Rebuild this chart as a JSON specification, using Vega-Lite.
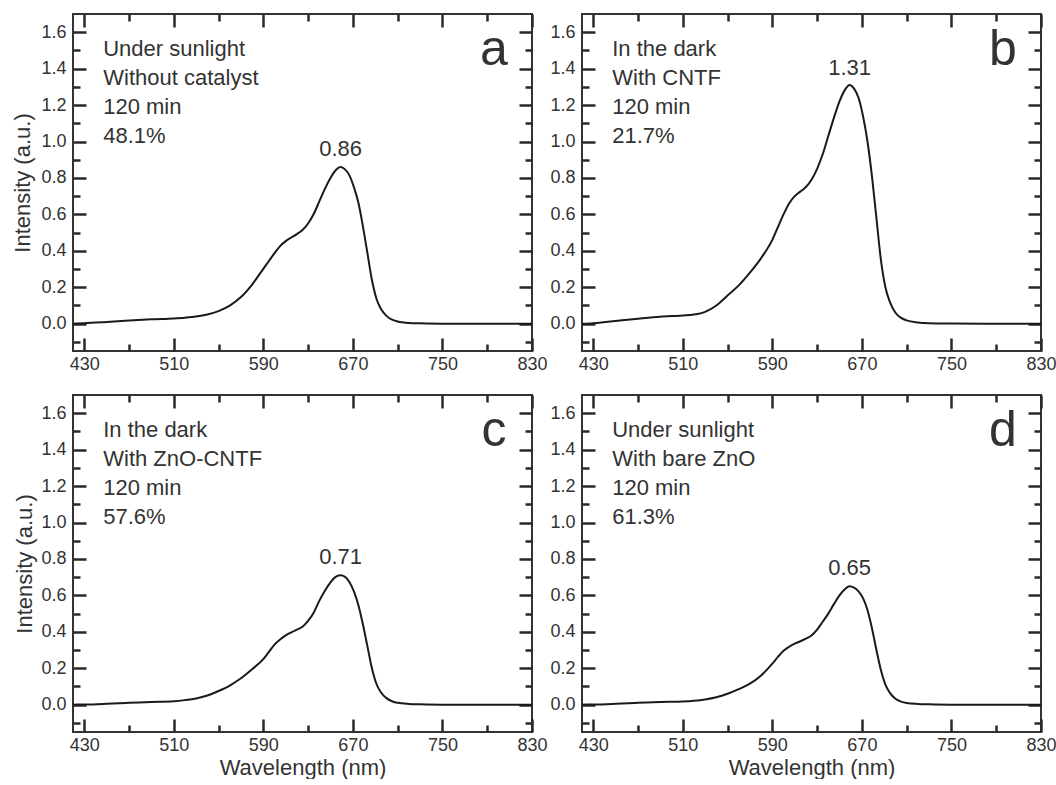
{
  "$schema": "https://vega.github.io/schema/vega-lite/v6.json",
  "padding": {"left": 10, "top": 11, "right": 0, "bottom": 0},
  "background": "white",
  "datasets": {
    "spectra": [
      {"panel":"a","wl":420,"abs":0},{"panel":"a","wl":430,"abs":0.002},{"panel":"a","wl":450,"abs":0.009},{"panel":"a","wl":470,"abs":0.017},{"panel":"a","wl":490,"abs":0.024},{"panel":"a","wl":510,"abs":0.029},{"panel":"a","wl":520,"abs":0.033},{"panel":"a","wl":530,"abs":0.039},{"panel":"a","wl":540,"abs":0.05},{"panel":"a","wl":550,"abs":0.069},{"panel":"a","wl":560,"abs":0.099},{"panel":"a","wl":570,"abs":0.146},{"panel":"a","wl":580,"abs":0.215},{"panel":"a","wl":590,"abs":0.301},{"panel":"a","wl":595,"abs":0.344},{"panel":"a","wl":600,"abs":0.387},{"panel":"a","wl":605,"abs":0.426},{"panel":"a","wl":610,"abs":0.453},{"panel":"a","wl":615,"abs":0.473},{"panel":"a","wl":620,"abs":0.492},{"panel":"a","wl":625,"abs":0.514},{"panel":"a","wl":630,"abs":0.55},{"panel":"a","wl":635,"abs":0.602},{"panel":"a","wl":640,"abs":0.671},{"panel":"a","wl":645,"abs":0.74},{"panel":"a","wl":650,"abs":0.8},{"panel":"a","wl":655,"abs":0.845},{"panel":"a","wl":659,"abs":0.86},{"panel":"a","wl":663,"abs":0.847},{"panel":"a","wl":667,"abs":0.813},{"panel":"a","wl":671,"abs":0.748},{"panel":"a","wl":675,"abs":0.662},{"panel":"a","wl":679,"abs":0.533},{"panel":"a","wl":683,"abs":0.387},{"panel":"a","wl":687,"abs":0.241},{"panel":"a","wl":691,"abs":0.138},{"panel":"a","wl":695,"abs":0.082},{"panel":"a","wl":700,"abs":0.043},{"panel":"a","wl":705,"abs":0.022},{"panel":"a","wl":710,"abs":0.012},{"panel":"a","wl":720,"abs":0.004},{"panel":"a","wl":730,"abs":0.002},{"panel":"a","wl":750,"abs":0},{"panel":"a","wl":780,"abs":0},{"panel":"a","wl":830,"abs":0},
      {"panel":"b","wl":420,"abs":0},{"panel":"b","wl":430,"abs":0.003},{"panel":"b","wl":450,"abs":0.015},{"panel":"b","wl":470,"abs":0.027},{"panel":"b","wl":490,"abs":0.038},{"panel":"b","wl":510,"abs":0.045},{"panel":"b","wl":520,"abs":0.05},{"panel":"b","wl":530,"abs":0.065},{"panel":"b","wl":540,"abs":0.1},{"panel":"b","wl":550,"abs":0.155},{"panel":"b","wl":560,"abs":0.21},{"panel":"b","wl":570,"abs":0.28},{"panel":"b","wl":580,"abs":0.36},{"panel":"b","wl":590,"abs":0.46},{"panel":"b","wl":595,"abs":0.53},{"panel":"b","wl":600,"abs":0.6},{"panel":"b","wl":605,"abs":0.66},{"panel":"b","wl":610,"abs":0.7},{"panel":"b","wl":615,"abs":0.725},{"panel":"b","wl":620,"abs":0.75},{"panel":"b","wl":625,"abs":0.79},{"panel":"b","wl":630,"abs":0.85},{"panel":"b","wl":635,"abs":0.93},{"panel":"b","wl":640,"abs":1.03},{"panel":"b","wl":645,"abs":1.13},{"panel":"b","wl":650,"abs":1.22},{"panel":"b","wl":655,"abs":1.285},{"panel":"b","wl":659,"abs":1.31},{"panel":"b","wl":663,"abs":1.29},{"panel":"b","wl":667,"abs":1.24},{"panel":"b","wl":671,"abs":1.14},{"panel":"b","wl":675,"abs":1.0},{"panel":"b","wl":679,"abs":0.81},{"panel":"b","wl":683,"abs":0.58},{"panel":"b","wl":687,"abs":0.35},{"panel":"b","wl":691,"abs":0.2},{"panel":"b","wl":695,"abs":0.12},{"panel":"b","wl":700,"abs":0.06},{"panel":"b","wl":705,"abs":0.032},{"panel":"b","wl":710,"abs":0.018},{"panel":"b","wl":720,"abs":0.007},{"panel":"b","wl":730,"abs":0.003},{"panel":"b","wl":750,"abs":0.001},{"panel":"b","wl":780,"abs":0},{"panel":"b","wl":830,"abs":0},
      {"panel":"c","wl":420,"abs":0},{"panel":"c","wl":430,"abs":0.001},{"panel":"c","wl":450,"abs":0.005},{"panel":"c","wl":470,"abs":0.01},{"panel":"c","wl":490,"abs":0.015},{"panel":"c","wl":510,"abs":0.019},{"panel":"c","wl":520,"abs":0.025},{"panel":"c","wl":530,"abs":0.034},{"panel":"c","wl":540,"abs":0.05},{"panel":"c","wl":550,"abs":0.075},{"panel":"c","wl":560,"abs":0.105},{"panel":"c","wl":570,"abs":0.145},{"panel":"c","wl":580,"abs":0.195},{"panel":"c","wl":590,"abs":0.25},{"panel":"c","wl":595,"abs":0.29},{"panel":"c","wl":600,"abs":0.33},{"panel":"c","wl":605,"abs":0.358},{"panel":"c","wl":610,"abs":0.38},{"panel":"c","wl":615,"abs":0.397},{"panel":"c","wl":620,"abs":0.412},{"panel":"c","wl":625,"abs":0.428},{"panel":"c","wl":630,"abs":0.46},{"panel":"c","wl":635,"abs":0.505},{"panel":"c","wl":640,"abs":0.57},{"panel":"c","wl":645,"abs":0.625},{"panel":"c","wl":650,"abs":0.672},{"panel":"c","wl":655,"abs":0.703},{"panel":"c","wl":659,"abs":0.71},{"panel":"c","wl":663,"abs":0.702},{"panel":"c","wl":667,"abs":0.672},{"panel":"c","wl":671,"abs":0.62},{"panel":"c","wl":675,"abs":0.545},{"panel":"c","wl":679,"abs":0.44},{"panel":"c","wl":683,"abs":0.32},{"panel":"c","wl":687,"abs":0.2},{"panel":"c","wl":691,"abs":0.115},{"panel":"c","wl":695,"abs":0.068},{"panel":"c","wl":700,"abs":0.036},{"panel":"c","wl":705,"abs":0.019},{"panel":"c","wl":710,"abs":0.01},{"panel":"c","wl":720,"abs":0.004},{"panel":"c","wl":730,"abs":0.002},{"panel":"c","wl":750,"abs":0},{"panel":"c","wl":780,"abs":0},{"panel":"c","wl":830,"abs":0},
      {"panel":"d","wl":420,"abs":0},{"panel":"d","wl":430,"abs":0.001},{"panel":"d","wl":450,"abs":0.005},{"panel":"d","wl":470,"abs":0.01},{"panel":"d","wl":490,"abs":0.015},{"panel":"d","wl":510,"abs":0.018},{"panel":"d","wl":520,"abs":0.022},{"panel":"d","wl":530,"abs":0.029},{"panel":"d","wl":540,"abs":0.041},{"panel":"d","wl":550,"abs":0.06},{"panel":"d","wl":560,"abs":0.085},{"panel":"d","wl":570,"abs":0.115},{"panel":"d","wl":580,"abs":0.16},{"panel":"d","wl":590,"abs":0.225},{"panel":"d","wl":595,"abs":0.262},{"panel":"d","wl":600,"abs":0.296},{"panel":"d","wl":605,"abs":0.318},{"panel":"d","wl":610,"abs":0.335},{"panel":"d","wl":615,"abs":0.348},{"panel":"d","wl":620,"abs":0.362},{"panel":"d","wl":625,"abs":0.38},{"panel":"d","wl":630,"abs":0.412},{"panel":"d","wl":635,"abs":0.455},{"panel":"d","wl":640,"abs":0.5},{"panel":"d","wl":645,"abs":0.552},{"panel":"d","wl":650,"abs":0.6},{"panel":"d","wl":655,"abs":0.635},{"panel":"d","wl":659,"abs":0.65},{"panel":"d","wl":663,"abs":0.642},{"panel":"d","wl":667,"abs":0.622},{"panel":"d","wl":671,"abs":0.585},{"panel":"d","wl":675,"abs":0.52},{"panel":"d","wl":679,"abs":0.42},{"panel":"d","wl":683,"abs":0.3},{"panel":"d","wl":687,"abs":0.19},{"panel":"d","wl":691,"abs":0.11},{"panel":"d","wl":695,"abs":0.065},{"panel":"d","wl":700,"abs":0.033},{"panel":"d","wl":705,"abs":0.017},{"panel":"d","wl":710,"abs":0.009},{"panel":"d","wl":720,"abs":0.004},{"panel":"d","wl":730,"abs":0.002},{"panel":"d","wl":750,"abs":0},{"panel":"d","wl":780,"abs":0},{"panel":"d","wl":830,"abs":0}
    ],
    "panels": [
      {"panel":"a","letter":"a","info":["Under sunlight","Without catalyst","120 min","48.1%"],"peakwl":659,"peak":0.86,"peaklabel":"0.86"},
      {"panel":"b","letter":"b","info":["In the dark","With CNTF","120 min","21.7%"],"peakwl":659,"peak":1.31,"peaklabel":"1.31"},
      {"panel":"c","letter":"c","info":["In the dark","With ZnO-CNTF","120 min","57.6%"],"peakwl":659,"peak":0.71,"peaklabel":"0.71"},
      {"panel":"d","letter":"d","info":["Under sunlight","With bare ZnO","120 min","61.3%"],"peakwl":659,"peak":0.65,"peaklabel":"0.65"}
    ]
  },
  "concat": [
    {
      "width": 459, "height": 337,
      "layer": [
        {"data": {"name": "spectra"}, "transform": [{"filter": "datum.panel == 'a'"}],
         "mark": {"type": "line", "interpolate": "monotone", "color": "#1a1a1a", "strokeWidth": 2},
         "encoding": {
           "x": {"field": "wl", "type": "quantitative", "scale": {"domain": [420, 830], "nice": false, "zero": false},
                 "axis": {"orient": "bottom", "offset": -13, "tickSize": 13, "tickColor": "#2a2a2a", "tickWidth": 2.5, "values": [430,510,590,670,750,830], "format": "d", "labelPadding": 4, "labelFlush": false, "labelOverlap": false, "title": ""}},
           "y": {"field": "abs", "type": "quantitative", "scale": {"domain": [-0.15, 1.7], "nice": false, "zero": false},
                 "axis": {"orient": "left", "offset": -13, "tickSize": 13, "tickColor": "#2a2a2a", "tickWidth": 2.5, "values": [0,0.2,0.4,0.6,0.8,1.0,1.2,1.4,1.6], "format": ".1f", "labelPadding": 7, "labelFlush": false, "labelOverlap": false, "title": "Intensity (a.u.)", "titlePadding": 6}}
         }},
        {"data": {"name": "panels"}, "transform": [{"filter": "datum.panel == 'a'"}],
         "mark": {"type": "text", "fontSize": 22, "baseline": "alphabetic", "align": "center", "dy": -11, "color": "#333"},
         "encoding": {
           "x": {"field": "peakwl", "type": "quantitative", "scale": {"domain": [420, 830], "nice": false, "zero": false},
                 "axis": {"orient": "top", "offset": -13, "tickSize": 13, "tickColor": "#2a2a2a", "tickWidth": 2.5, "values": [430,510,590,670,750,830], "labels": false, "title": ""}},
           "y": {"field": "peak", "type": "quantitative", "scale": {"domain": [-0.15, 1.7], "nice": false, "zero": false},
                 "axis": {"orient": "right", "offset": -13, "tickSize": 13, "tickColor": "#2a2a2a", "tickWidth": 2.5, "values": [0,0.2,0.4,0.6,0.8,1.0,1.2,1.4,1.6], "labels": false, "title": ""}},
           "text": {"field": "peaklabel"}
         }},
        {"data": {"name": "panels"}, "transform": [{"filter": "datum.panel == 'a'"}],
         "mark": {"type": "text", "fontSize": 22, "lineHeight": 29, "baseline": "alphabetic", "align": "left", "color": "#333"},
         "encoding": {
           "x": {"datum": 447, "type": "quantitative", "scale": {"domain": [420, 830], "nice": false, "zero": false},
                 "axis": {"orient": "bottom", "offset": -7, "tickSize": 7, "tickColor": "#2a2a2a", "tickWidth": 2.5, "values": [470,550,630,710,790], "labels": false, "title": ""}},
           "y": {"datum": 1.467, "type": "quantitative", "scale": {"domain": [-0.15, 1.7], "nice": false, "zero": false},
                 "axis": {"orient": "left", "offset": -7, "tickSize": 7, "tickColor": "#2a2a2a", "tickWidth": 2.5, "values": [-0.1,0.1,0.3,0.5,0.7,0.9,1.1,1.3,1.5], "labels": false, "title": ""}},
           "text": {"field": "info"}
         }},
        {"data": {"name": "panels"}, "transform": [{"filter": "datum.panel == 'a'"}],
         "mark": {"type": "text", "fontSize": 50, "baseline": "alphabetic", "align": "center", "color": "#333"},
         "encoding": {
           "x": {"datum": 796, "type": "quantitative", "scale": {"domain": [420, 830], "nice": false, "zero": false},
                 "axis": {"orient": "top", "offset": -7, "tickSize": 7, "tickColor": "#2a2a2a", "tickWidth": 2.5, "values": [470,550,630,710,790], "labels": false, "title": ""}},
           "y": {"datum": 1.42, "type": "quantitative", "scale": {"domain": [-0.15, 1.7], "nice": false, "zero": false},
                 "axis": {"orient": "right", "offset": -7, "tickSize": 7, "tickColor": "#2a2a2a", "tickWidth": 2.5, "values": [-0.1,0.1,0.3,0.5,0.7,0.9,1.1,1.3,1.5], "labels": false, "title": ""}},
           "text": {"field": "letter"}
         }}
      ],
      "resolve": {"axis": {"x": "independent", "y": "independent"}}
    },
    {
      "width": 459, "height": 337,
      "layer": [
        {"data": {"name": "spectra"}, "transform": [{"filter": "datum.panel == 'b'"}],
         "mark": {"type": "line", "interpolate": "monotone", "color": "#1a1a1a", "strokeWidth": 2},
         "encoding": {
           "x": {"field": "wl", "type": "quantitative", "scale": {"domain": [420, 830], "nice": false, "zero": false},
                 "axis": {"orient": "bottom", "offset": -13, "tickSize": 13, "tickColor": "#2a2a2a", "tickWidth": 2.5, "values": [430,510,590,670,750,830], "format": "d", "labelPadding": 4, "labelFlush": false, "labelOverlap": false, "title": ""}},
           "y": {"field": "abs", "type": "quantitative", "scale": {"domain": [-0.15, 1.7], "nice": false, "zero": false},
                 "axis": {"orient": "left", "offset": -13, "tickSize": 13, "tickColor": "#2a2a2a", "tickWidth": 2.5, "values": [0,0.2,0.4,0.6,0.8,1.0,1.2,1.4,1.6], "format": ".1f", "labelPadding": 7, "labelFlush": false, "labelOverlap": false, "title": ""}}
         }},
        {"data": {"name": "panels"}, "transform": [{"filter": "datum.panel == 'b'"}],
         "mark": {"type": "text", "fontSize": 22, "baseline": "alphabetic", "align": "center", "dy": -10, "color": "#333"},
         "encoding": {
           "x": {"field": "peakwl", "type": "quantitative", "scale": {"domain": [420, 830], "nice": false, "zero": false},
                 "axis": {"orient": "top", "offset": -13, "tickSize": 13, "tickColor": "#2a2a2a", "tickWidth": 2.5, "values": [430,510,590,670,750,830], "labels": false, "title": ""}},
           "y": {"field": "peak", "type": "quantitative", "scale": {"domain": [-0.15, 1.7], "nice": false, "zero": false},
                 "axis": {"orient": "right", "offset": -13, "tickSize": 13, "tickColor": "#2a2a2a", "tickWidth": 2.5, "values": [0,0.2,0.4,0.6,0.8,1.0,1.2,1.4,1.6], "labels": false, "title": ""}},
           "text": {"field": "peaklabel"}
         }},
        {"data": {"name": "panels"}, "transform": [{"filter": "datum.panel == 'b'"}],
         "mark": {"type": "text", "fontSize": 22, "lineHeight": 29, "baseline": "alphabetic", "align": "left", "color": "#333"},
         "encoding": {
           "x": {"datum": 447, "type": "quantitative", "scale": {"domain": [420, 830], "nice": false, "zero": false},
                 "axis": {"orient": "bottom", "offset": -7, "tickSize": 7, "tickColor": "#2a2a2a", "tickWidth": 2.5, "values": [470,550,630,710,790], "labels": false, "title": ""}},
           "y": {"datum": 1.467, "type": "quantitative", "scale": {"domain": [-0.15, 1.7], "nice": false, "zero": false},
                 "axis": {"orient": "left", "offset": -7, "tickSize": 7, "tickColor": "#2a2a2a", "tickWidth": 2.5, "values": [-0.1,0.1,0.3,0.5,0.7,0.9,1.1,1.3,1.5], "labels": false, "title": ""}},
           "text": {"field": "info"}
         }},
        {"data": {"name": "panels"}, "transform": [{"filter": "datum.panel == 'b'"}],
         "mark": {"type": "text", "fontSize": 50, "baseline": "alphabetic", "align": "center", "color": "#333"},
         "encoding": {
           "x": {"datum": 796, "type": "quantitative", "scale": {"domain": [420, 830], "nice": false, "zero": false},
                 "axis": {"orient": "top", "offset": -7, "tickSize": 7, "tickColor": "#2a2a2a", "tickWidth": 2.5, "values": [470,550,630,710,790], "labels": false, "title": ""}},
           "y": {"datum": 1.42, "type": "quantitative", "scale": {"domain": [-0.15, 1.7], "nice": false, "zero": false},
                 "axis": {"orient": "right", "offset": -7, "tickSize": 7, "tickColor": "#2a2a2a", "tickWidth": 2.5, "values": [-0.1,0.1,0.3,0.5,0.7,0.9,1.1,1.3,1.5], "labels": false, "title": ""}},
           "text": {"field": "letter"}
         }}
      ],
      "resolve": {"axis": {"x": "independent", "y": "independent"}}
    },
    {
      "width": 459, "height": 337,
      "layer": [
        {"data": {"name": "spectra"}, "transform": [{"filter": "datum.panel == 'c'"}],
         "mark": {"type": "line", "interpolate": "monotone", "color": "#1a1a1a", "strokeWidth": 2},
         "encoding": {
           "x": {"field": "wl", "type": "quantitative", "scale": {"domain": [420, 830], "nice": false, "zero": false},
                 "axis": {"orient": "bottom", "offset": -13, "tickSize": 13, "tickColor": "#2a2a2a", "tickWidth": 2.5, "values": [430,510,590,670,750,830], "format": "d", "labelPadding": 4, "labelFlush": false, "labelOverlap": false, "title": "Wavelength (nm)", "titlePadding": 3}},
           "y": {"field": "abs", "type": "quantitative", "scale": {"domain": [-0.15, 1.7], "nice": false, "zero": false},
                 "axis": {"orient": "left", "offset": -13, "tickSize": 13, "tickColor": "#2a2a2a", "tickWidth": 2.5, "values": [0,0.2,0.4,0.6,0.8,1.0,1.2,1.4,1.6], "format": ".1f", "labelPadding": 7, "labelFlush": false, "labelOverlap": false, "title": "Intensity (a.u.)", "titlePadding": 4}}
         }},
        {"data": {"name": "panels"}, "transform": [{"filter": "datum.panel == 'c'"}],
         "mark": {"type": "text", "fontSize": 22, "baseline": "alphabetic", "align": "center", "dy": -11, "color": "#333"},
         "encoding": {
           "x": {"field": "peakwl", "type": "quantitative", "scale": {"domain": [420, 830], "nice": false, "zero": false},
                 "axis": {"orient": "top", "offset": -13, "tickSize": 13, "tickColor": "#2a2a2a", "tickWidth": 2.5, "values": [430,510,590,670,750,830], "labels": false, "title": ""}},
           "y": {"field": "peak", "type": "quantitative", "scale": {"domain": [-0.15, 1.7], "nice": false, "zero": false},
                 "axis": {"orient": "right", "offset": -13, "tickSize": 13, "tickColor": "#2a2a2a", "tickWidth": 2.5, "values": [0,0.2,0.4,0.6,0.8,1.0,1.2,1.4,1.6], "labels": false, "title": ""}},
           "text": {"field": "peaklabel"}
         }},
        {"data": {"name": "panels"}, "transform": [{"filter": "datum.panel == 'c'"}],
         "mark": {"type": "text", "fontSize": 22, "lineHeight": 29, "baseline": "alphabetic", "align": "left", "color": "#333"},
         "encoding": {
           "x": {"datum": 447, "type": "quantitative", "scale": {"domain": [420, 830], "nice": false, "zero": false},
                 "axis": {"orient": "bottom", "offset": -7, "tickSize": 7, "tickColor": "#2a2a2a", "tickWidth": 2.5, "values": [470,550,630,710,790], "labels": false, "title": ""}},
           "y": {"datum": 1.467, "type": "quantitative", "scale": {"domain": [-0.15, 1.7], "nice": false, "zero": false},
                 "axis": {"orient": "left", "offset": -7, "tickSize": 7, "tickColor": "#2a2a2a", "tickWidth": 2.5, "values": [-0.1,0.1,0.3,0.5,0.7,0.9,1.1,1.3,1.5], "labels": false, "title": ""}},
           "text": {"field": "info"}
         }},
        {"data": {"name": "panels"}, "transform": [{"filter": "datum.panel == 'c'"}],
         "mark": {"type": "text", "fontSize": 50, "baseline": "alphabetic", "align": "center", "color": "#333"},
         "encoding": {
           "x": {"datum": 796, "type": "quantitative", "scale": {"domain": [420, 830], "nice": false, "zero": false},
                 "axis": {"orient": "top", "offset": -7, "tickSize": 7, "tickColor": "#2a2a2a", "tickWidth": 2.5, "values": [470,550,630,710,790], "labels": false, "title": ""}},
           "y": {"datum": 1.42, "type": "quantitative", "scale": {"domain": [-0.15, 1.7], "nice": false, "zero": false},
                 "axis": {"orient": "right", "offset": -7, "tickSize": 7, "tickColor": "#2a2a2a", "tickWidth": 2.5, "values": [-0.1,0.1,0.3,0.5,0.7,0.9,1.1,1.3,1.5], "labels": false, "title": ""}},
           "text": {"field": "letter"}
         }}
      ],
      "resolve": {"axis": {"x": "independent", "y": "independent"}}
    },
    {
      "width": 459, "height": 337,
      "layer": [
        {"data": {"name": "spectra"}, "transform": [{"filter": "datum.panel == 'd'"}],
         "mark": {"type": "line", "interpolate": "monotone", "color": "#1a1a1a", "strokeWidth": 2},
         "encoding": {
           "x": {"field": "wl", "type": "quantitative", "scale": {"domain": [420, 830], "nice": false, "zero": false},
                 "axis": {"orient": "bottom", "offset": -13, "tickSize": 13, "tickColor": "#2a2a2a", "tickWidth": 2.5, "values": [430,510,590,670,750,830], "format": "d", "labelPadding": 4, "labelFlush": false, "labelOverlap": false, "title": "Wavelength (nm)", "titlePadding": 3}},
           "y": {"field": "abs", "type": "quantitative", "scale": {"domain": [-0.15, 1.7], "nice": false, "zero": false},
                 "axis": {"orient": "left", "offset": -13, "tickSize": 13, "tickColor": "#2a2a2a", "tickWidth": 2.5, "values": [0,0.2,0.4,0.6,0.8,1.0,1.2,1.4,1.6], "format": ".1f", "labelPadding": 7, "labelFlush": false, "labelOverlap": false, "title": ""}}
         }},
        {"data": {"name": "panels"}, "transform": [{"filter": "datum.panel == 'd'"}],
         "mark": {"type": "text", "fontSize": 22, "baseline": "alphabetic", "align": "center", "dy": -11, "color": "#333"},
         "encoding": {
           "x": {"field": "peakwl", "type": "quantitative", "scale": {"domain": [420, 830], "nice": false, "zero": false},
                 "axis": {"orient": "top", "offset": -13, "tickSize": 13, "tickColor": "#2a2a2a", "tickWidth": 2.5, "values": [430,510,590,670,750,830], "labels": false, "title": ""}},
           "y": {"field": "peak", "type": "quantitative", "scale": {"domain": [-0.15, 1.7], "nice": false, "zero": false},
                 "axis": {"orient": "right", "offset": -13, "tickSize": 13, "tickColor": "#2a2a2a", "tickWidth": 2.5, "values": [0,0.2,0.4,0.6,0.8,1.0,1.2,1.4,1.6], "labels": false, "title": ""}},
           "text": {"field": "peaklabel"}
         }},
        {"data": {"name": "panels"}, "transform": [{"filter": "datum.panel == 'd'"}],
         "mark": {"type": "text", "fontSize": 22, "lineHeight": 29, "baseline": "alphabetic", "align": "left", "color": "#333"},
         "encoding": {
           "x": {"datum": 447, "type": "quantitative", "scale": {"domain": [420, 830], "nice": false, "zero": false},
                 "axis": {"orient": "bottom", "offset": -7, "tickSize": 7, "tickColor": "#2a2a2a", "tickWidth": 2.5, "values": [470,550,630,710,790], "labels": false, "title": ""}},
           "y": {"datum": 1.467, "type": "quantitative", "scale": {"domain": [-0.15, 1.7], "nice": false, "zero": false},
                 "axis": {"orient": "left", "offset": -7, "tickSize": 7, "tickColor": "#2a2a2a", "tickWidth": 2.5, "values": [-0.1,0.1,0.3,0.5,0.7,0.9,1.1,1.3,1.5], "labels": false, "title": ""}},
           "text": {"field": "info"}
         }},
        {"data": {"name": "panels"}, "transform": [{"filter": "datum.panel == 'd'"}],
         "mark": {"type": "text", "fontSize": 50, "baseline": "alphabetic", "align": "center", "color": "#333"},
         "encoding": {
           "x": {"datum": 796, "type": "quantitative", "scale": {"domain": [420, 830], "nice": false, "zero": false},
                 "axis": {"orient": "top", "offset": -7, "tickSize": 7, "tickColor": "#2a2a2a", "tickWidth": 2.5, "values": [470,550,630,710,790], "labels": false, "title": ""}},
           "y": {"datum": 1.42, "type": "quantitative", "scale": {"domain": [-0.15, 1.7], "nice": false, "zero": false},
                 "axis": {"orient": "right", "offset": -7, "tickSize": 7, "tickColor": "#2a2a2a", "tickWidth": 2.5, "values": [-0.1,0.1,0.3,0.5,0.7,0.9,1.1,1.3,1.5], "labels": false, "title": ""}},
           "text": {"field": "letter"}
         }}
      ],
      "resolve": {"axis": {"x": "independent", "y": "independent"}}
    }
  ],
  "columns": 2,
  "spacing": {"row": 44, "column": 50},
  "bounds": "flush",
  "config": {
    "font": "Liberation Sans",
    "view": {"stroke": "#333", "strokeWidth": 2},
    "axis": {"labelFont": "Liberation Sans", "labelFontSize": 18, "labelColor": "#333", "titleFont": "Liberation Sans", "titleFontSize": 22, "titleFontWeight": "normal", "titleColor": "#333", "domain": false, "grid": false},
    "text": {"font": "Liberation Sans"}
  }
}
